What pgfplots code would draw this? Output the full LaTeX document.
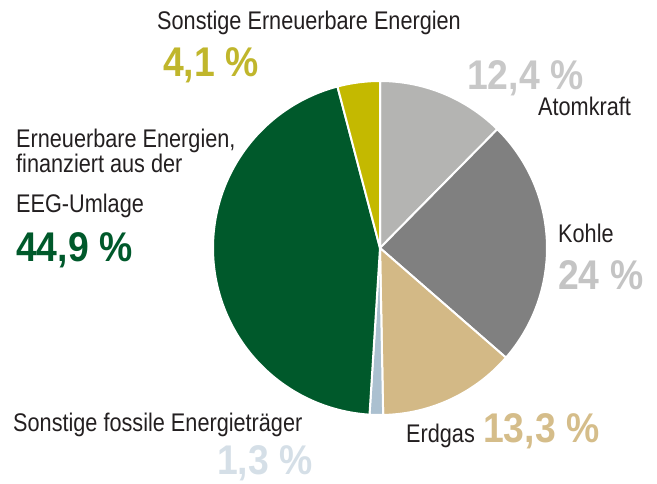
\documentclass[border=0pt]{standalone}
\usepackage{fontspec}
\setmainfont{Liberation Sans}[FakeStretch=0.85]
\newfontfamily\numfont{Liberation Sans}[FakeStretch=0.9]
\usepackage{pgfplots}
\pgfplotsset{compat=1.18}
\usepackage{pgfplotstable}

\definecolor{cAtom}{HTML}{B4B4B2}
\definecolor{cKohle}{HTML}{808080}
\definecolor{cGas}{HTML}{D3B986}
\definecolor{cFoss}{HTML}{ABC0D0}
\definecolor{cEEG}{HTML}{00592B}
\definecolor{cErn}{HTML}{C4B900}
\definecolor{tErn}{HTML}{C0B62C}
\definecolor{tAtom}{HTML}{C8C8C8}
\definecolor{tKohle}{HTML}{C4C4C4}
\definecolor{tGas}{HTML}{D5BD8A}
\definecolor{tFoss}{HTML}{D5DFE7}
\definecolor{tDark}{HTML}{231F20}

% shares in percent, clockwise from the top
\pgfplotstableread{
label value
Atomkraft 12.4
Kohle 24.0
Erdgas 13.3
Fossil 1.3
EEG 44.9
Erneuerbar 4.1
}\sharetable

\newcommand\lab{\fontsize{25.5}{30}\selectfont\color{tDark}}
\newcommand\num{\numfont\fontsize{41.5}{46}\selectfont\bfseries}

\begin{document}
\begin{tikzpicture}
\pgfplotstablegetelem{0}{value}\of\sharetable \let\vA\pgfplotsretval
\pgfplotstablegetelem{1}{value}\of\sharetable \let\vB\pgfplotsretval
\pgfplotstablegetelem{2}{value}\of\sharetable \let\vC\pgfplotsretval
\pgfplotstablegetelem{3}{value}\of\sharetable \let\vD\pgfplotsretval
\pgfplotstablegetelem{4}{value}\of\sharetable \let\vE\pgfplotsretval
\pgfplotstablegetelem{5}{value}\of\sharetable \let\vF\pgfplotsretval
\pgfmathsetmacro\aA{90}
\pgfmathsetmacro\aB{\aA-3.6*\vA}
\pgfmathsetmacro\aC{\aB-3.6*\vB}
\pgfmathsetmacro\aD{\aC-3.6*\vC}
\pgfmathsetmacro\aE{\aD-3.6*\vD}
\pgfmathsetmacro\aF{\aE-3.6*\vE}
\pgfmathsetmacro\aG{\aF-3.6*\vF}
\begin{axis}[
  scale only axis, width=657pt, height=483pt,
  xmin=0, xmax=657, ymin=0, ymax=483,
  hide axis, clip=false,
]
\addplot[fill=cAtom, draw=white, line width=2pt, line join=round, domain=\aB:\aA, samples=60]
  ({380+167*cos(x)},{235+167*sin(x)}) -- (axis cs:380,235) -- cycle;
\addplot[fill=cKohle, draw=white, line width=2pt, line join=round, domain=\aC:\aB, samples=90]
  ({380+167*cos(x)},{235+167*sin(x)}) -- (axis cs:380,235) -- cycle;
\addplot[fill=cGas, draw=white, line width=2pt, line join=round, domain=\aD:\aC, samples=60]
  ({380+167*cos(x)},{235+167*sin(x)}) -- (axis cs:380,235) -- cycle;
\addplot[fill=cFoss, draw=white, line width=2pt, line join=round, domain=\aE:\aD, samples=10]
  ({380+167*cos(x)},{235+167*sin(x)}) -- (axis cs:380,235) -- cycle;
\addplot[fill=cEEG, draw=white, line width=2pt, line join=round, domain=\aF:\aE, samples=120]
  ({380+167*cos(x)},{235+167*sin(x)}) -- (axis cs:380,235) -- cycle;
\addplot[fill=cErn, draw=white, line width=2pt, line join=round, domain=\aG:\aF, samples=20]
  ({380+167*cos(x)},{235+167*sin(x)}) -- (axis cs:380,235) -- cycle;

% labels (y = 483 - image y of the baseline)
\node[anchor=base west, inner sep=0pt] at (axis cs:157,453) {\lab Sonstige Erneuerbare Energien};
\node[anchor=base west, inner sep=0pt, text=tErn] at (axis cs:163,406) {\num 4,1 \%};

\node[anchor=base west, inner sep=0pt, text=tAtom] at (axis cs:467,393) {\num 12,4 \%};
\node[anchor=base west, inner sep=0pt] at (axis cs:538,367) {\lab Atomkraft};

\node[anchor=base west, inner sep=0pt] at (axis cs:558,240) {\lab Kohle};
\node[anchor=base west, inner sep=0pt, text=tKohle] at (axis cs:558,193) {\num 24 \%};

\node[anchor=base west, inner sep=0pt] at (axis cs:406,41) {\lab Erdgas};
\node[anchor=base west, inner sep=0pt, text=tGas] at (axis cs:483,41) {\num 13,3 \%};

\node[anchor=base west, inner sep=0pt] at (axis cs:13,51) {\lab Sonstige fossile Energieträger};
\node[anchor=base west, inner sep=0pt, text=tFoss] at (axis cs:217,9) {\num 1,3 \%};

\node[anchor=base west, inner sep=0pt] at (axis cs:16,335) {\lab Erneuerbare Energien,};
\node[anchor=base west, inner sep=0pt] at (axis cs:16,310) {\lab finanziert aus der};
\node[anchor=base west, inner sep=0pt] at (axis cs:16,270) {\lab EEG-Umlage};
\node[anchor=base west, inner sep=0pt, text=cEEG] at (axis cs:16,221) {\num 44,9 \%};
\end{axis}
\pgfresetboundingbox
\useasboundingbox (current axis.south west) rectangle (current axis.north east);
\end{tikzpicture}
\end{document}
